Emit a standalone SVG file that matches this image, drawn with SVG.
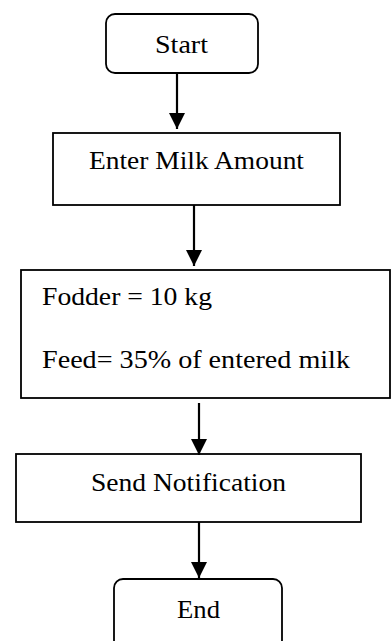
<svg xmlns="http://www.w3.org/2000/svg" width="392" height="641" viewBox="0 0 392 641">
<defs>
<style>
.box{fill:#fff;stroke:#000;stroke-width:1.8}
.t{font-family:"Liberation Serif",serif;font-size:25px;fill:#000}
.c{stroke:#000;stroke-width:2.2;fill:none}
</style>
<marker id="ah" markerUnits="userSpaceOnUse" markerWidth="16" markerHeight="16" viewBox="0 0 16 16" refX="16" refY="8" orient="auto">
<path d="M0,0 L16,8 L0,16 Z" fill="#000"/>
</marker>
</defs>
<rect width="392" height="641" fill="#fff"/>
<g id="start">
<rect class="box" x="106" y="14" width="152" height="59" rx="9"/>
<text class="t" x="155" y="53" textLength="53" lengthAdjust="spacingAndGlyphs">Start</text>
</g>
<g id="enter">
<rect class="box" x="53" y="133" width="287" height="72"/>
<text class="t" x="89" y="169" textLength="215" lengthAdjust="spacingAndGlyphs">Enter Milk Amount</text>
</g>
<g id="calc">
<rect class="box" x="21" y="270" width="369" height="128"/>
<text class="t" x="42" y="305" textLength="170" lengthAdjust="spacingAndGlyphs">Fodder = 10 kg</text>
<text class="t" x="42" y="368" textLength="308" lengthAdjust="spacingAndGlyphs">Feed= 35% of entered milk</text>
</g>
<g id="notify">
<rect class="box" x="16" y="454" width="345" height="68"/>
<text class="t" x="91" y="491" textLength="195" lengthAdjust="spacingAndGlyphs">Send Notification</text>
</g>
<g id="end">
<rect class="box" x="114" y="579" width="168" height="70" rx="9"/>
<text class="t" x="177" y="618" textLength="43" lengthAdjust="spacingAndGlyphs">End</text>
</g>
<g id="connectors">
<line class="c" x1="177" y1="73" x2="177" y2="129" marker-end="url(#ah)"/>
<line class="c" x1="194" y1="205" x2="194" y2="266" marker-end="url(#ah)"/>
<line class="c" x1="199" y1="403" x2="199" y2="455" marker-end="url(#ah)"/>
<line class="c" x1="199" y1="522" x2="199" y2="578" marker-end="url(#ah)"/>
</g>
</svg>
